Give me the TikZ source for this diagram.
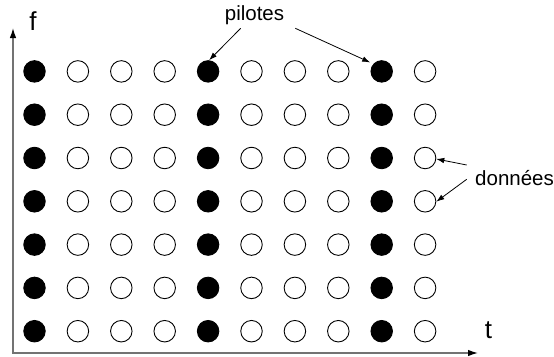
\documentclass[tikz,border=0pt]{standalone}
\usepackage{fontspec}
\setmainfont{Liberation Sans}
\usetikzlibrary{arrows.meta}
\begin{document}
\begin{tikzpicture}[x=1pt,y=-1pt,
  cell/.style={circle,draw=black,line width=0.9pt,minimum size=21.5pt,inner sep=0pt},
  pilot/.style={cell,fill=black},
  data/.style={cell,fill=white},
  axis/.style={line width=1.3pt,draw=black!55,
    {Latex[length=10pt,width=6.5pt,black]}-{Latex[length=10pt,width=6.5pt,black]}},
  callout/.style={line width=0.8pt,-{Latex[length=8pt,width=5.5pt]}},
  axlabel/.style={inner sep=0pt,font=\fontsize{26}{30}\selectfont},
  label/.style={inner sep=0pt,font=\fontsize{20.5}{24}\selectfont}]
\useasboundingbox (0,0) rectangle (554,356);
\clip (0,0) rectangle (554,356);
% grid of symbols
\foreach \i in {1,...,10}{
  \foreach \j in {1,...,7}{
    \pgfmathsetmacro{\cx}{34.5+43.4*(\i-1)}
    \pgfmathsetmacro{\cy}{71.4+43.3*(\j-1)}
    \ifnum\i=1 \def\kind{pilot}\else\ifnum\i=5 \def\kind{pilot}\else\ifnum\i=9 \def\kind{pilot}\else\def\kind{data}\fi\fi\fi
    \node[\kind] (c-\i-\j) at (\cx,\cy) {};
  }
}
% axes
\coordinate (ytip) at (13,28);
\coordinate (xtip) at (478,353);
\draw[axis] (ytip) |- (xtip);
\node[axlabel,anchor=base] (f) at (33,30) {f};
\node[axlabel,anchor=base] (t) at (488.5,338) {t};
% labels
\node[label,anchor=base] (pil) at (254.5,20.5) {pilotes};
\node[label,anchor=base west] (don) at (475,185) {données};
\coordinate (p1) at (240.7,28.3);
\coordinate (p2) at (295.3,28.3);
\coordinate (d1) at (466.7,165);
\coordinate (d2) at (466.7,179.3);
\draw[callout] (p1) -- (c-5-1.85);
\draw[callout,shorten >=3.5pt] (p2) -- (c-9-1.138);
\draw[callout] (d1) -- (c-10-3.-5);
\draw[callout] (d2) -- (c-10-4.-2);
\end{tikzpicture}
\end{document}
